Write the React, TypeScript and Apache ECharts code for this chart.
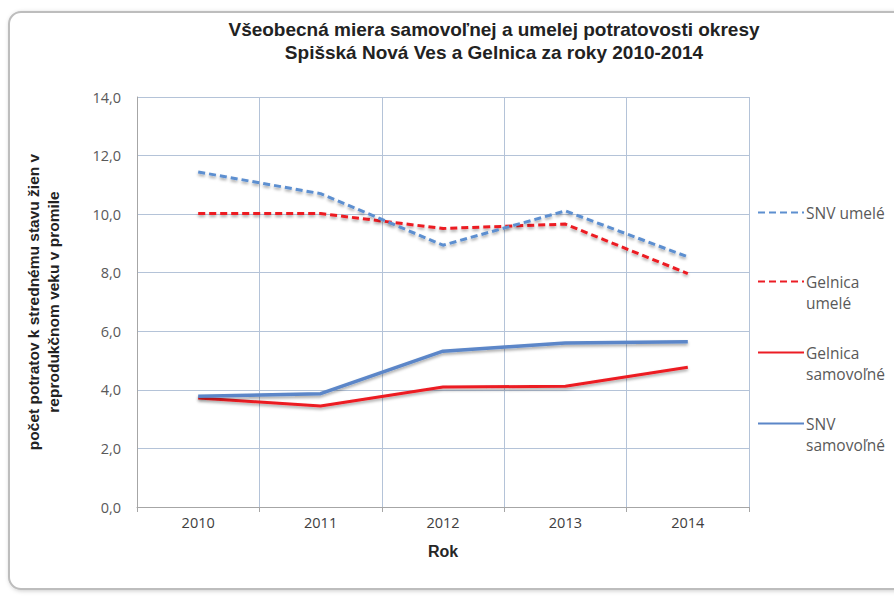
import React, { useEffect, useRef } from "react";
import * as echarts from "echarts";

const years = ["2010", "2011", "2012", "2013", "2014"];
const snvUmele = [11.44, 10.7, 8.94, 10.11, 8.54];
const gelnicaUmele = [10.02, 10.02, 9.51, 9.66, 7.97];
const gelnicaSamovolne = [3.72, 3.45, 4.1, 4.12, 4.77];
const snvSamovolne = [3.78, 3.87, 5.32, 5.6, 5.64];

const seriesNames = ["SNV umelé", "Gelnica umelé", "Gelnica samovoľné", "SNV samovoľné"];
const legendLabels: Record<string, string> = {
  "SNV umelé": "SNV umelé",
  "Gelnica umelé": " \nGelnica\numelé",
  "Gelnica samovoľné": " \nGelnica\nsamovoľné",
  "SNV samovoľné": " \nSNV\nsamovoľné",
};

const BLUE = "#5b86c8";
const RED = "#ec1c24";
const FONT = "'Liberation Sans', Arial, sans-serif";
const LFONT = "'Open Sans', 'Liberation Sans', sans-serif";

export default function App() {
  const ref = useRef<HTMLDivElement>(null);
  useEffect(() => {
    document.body.style.margin = "0";
    const chart = echarts.init(ref.current!, undefined, { renderer: "svg" });
    const shadow = { shadowBlur: 3, shadowColor: "rgba(0,0,0,0.35)", shadowOffsetY: 2 };
    const mkLegend = (name: string, top: number) => ({
      data: [name],
      left: 757,
      top,
      orient: "vertical",
      itemWidth: 46,
      itemHeight: 10,
      itemGap: 0,
      padding: 0,
      itemStyle: { opacity: 0 },
      formatter: (n: string) => legendLabels[n],
      textStyle: { fontFamily: LFONT, fontSize: 15.5, color: "#595959", lineHeight: 21, padding: [0, 0, 0, -3] },
    });
    chart.setOption({
      animation: false,
      backgroundColor: "#ffffff",
      title: {
        text: "Všeobecná miera samovoľnej a umelej potratovosti okresy\nSpišská Nová Ves a Gelnica za roky 2010-2014",
        left: 489,
        top: 13,
        textAlign: "center",
        textStyle: { fontFamily: FONT, fontSize: 19, fontWeight: "bold", color: "#222", lineHeight: 23 },
      },
      legend: [
        mkLegend(seriesNames[0], 202),
        mkLegend(seriesNames[1], 250),
        mkLegend(seriesNames[2], 321),
        mkLegend(seriesNames[3], 392),
      ],
      grid: { left: 137, right: 145, top: 97, bottom: 89 },
      xAxis: {
        type: "category",
        data: years,
        boundaryGap: true,
        name: "Rok",
        nameLocation: "middle",
        nameGap: 36,
        nameTextStyle: { fontFamily: FONT, fontSize: 16, fontWeight: "bold", color: "#262626" },
        axisLine: { lineStyle: { color: "#a6a6a6", width: 1 } },
        axisTick: { show: true, length: 5, lineStyle: { color: "#a6a6a6" } },
        axisLabel: { fontFamily: LFONT, fontSize: 14.5, color: "#404040", margin: 8 },
        splitLine: { show: true, interval: 0, lineStyle: { color: "#b4c3d8", width: 1 } },
      },
      yAxis: {
        type: "value",
        min: 0,
        max: 14,
        interval: 2,
        name: "počet potratov k strednému stavu žien v\nreprodukčnom veku v promile",
        nameLocation: "middle",
        nameGap: 74,
        nameRotate: 90,
        nameTextStyle: { fontFamily: FONT, fontSize: 15.5, fontWeight: "bold", color: "#222", lineHeight: 20 },
        axisLine: { show: true, lineStyle: { color: "#a6a6a6", width: 1 } },
        axisTick: { show: false },
        axisLabel: {
          fontFamily: LFONT,
          fontSize: 14.5,
          color: "#595959",
          margin: 16,
          formatter: (v: number) => v.toFixed(1).replace(".", ","),
        },
        splitLine: { show: true, lineStyle: { color: "#b4c3d8", width: 1 } },
      },
      series: [
        {
          name: seriesNames[0],
          type: "line",
          data: snvUmele,
          symbol: "none",
          itemStyle: { color: "#5d8fd0" },
          lineStyle: { color: "#5d8fd0", width: 3, type: [7, 4], ...shadow },
          z: 3,
        },
        {
          name: seriesNames[1],
          type: "line",
          data: gelnicaUmele,
          symbol: "none",
          itemStyle: { color: RED },
          lineStyle: { color: RED, width: 3, type: [7, 4], ...shadow },
          z: 2,
        },
        {
          name: seriesNames[2],
          type: "line",
          data: gelnicaSamovolne,
          symbol: "none",
          itemStyle: { color: RED },
          lineStyle: { color: RED, width: 3, ...shadow },
          z: 2,
        },
        {
          name: seriesNames[3],
          type: "line",
          data: snvSamovolne,
          symbol: "none",
          itemStyle: { color: BLUE },
          lineStyle: { color: BLUE, width: 3.5, ...shadow },
          z: 3,
        },
      ],
      graphic: [
        {
          type: "rect",
          z: -10,
          silent: true,
          shape: { x: 9, y: 12, width: 900, height: 577, r: 12 },
          style: { fill: "#ffffff", stroke: "#bdbdbd", lineWidth: 2, shadowBlur: 4, shadowColor: "rgba(0,0,0,0.2)", shadowOffsetX: 1, shadowOffsetY: 1 },
        },
      ],
    });
    return () => chart.dispose();
  }, []);
  return <div ref={ref} style={{ width: 894, height: 596 }} />;
}
